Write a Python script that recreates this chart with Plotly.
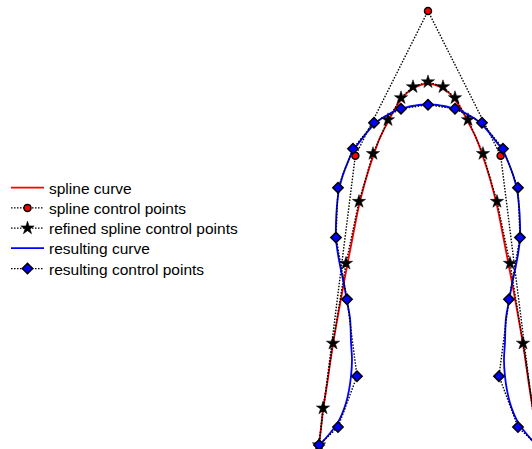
import plotly.graph_objects as go

# spline control points
ctrl_x = [0, 1, 3, 5, 6]
ctrl_y = [0, 2, 3, 2, 0]

# spline curve
curve_x = [0, 0.055, 0.11, 0.22, 0.358, 0.523, 0.688, 0.936, 1.101, 1.294, 1.486, 1.679,
           1.899, 2.092, 2.257, 2.45, 2.615, 2.808, 3.0,
           3.192, 3.385, 3.55, 3.743, 3.908, 4.101, 4.321, 4.514, 4.706, 4.899, 5.064,
           5.312, 5.477, 5.642, 5.78, 5.89, 5.945, 6]
curve_y = [0, 0.117, 0.241, 0.414, 0.655, 0.897, 1.124, 1.448, 1.655, 1.841, 1.993, 2.124,
           2.234, 2.324, 2.386, 2.441, 2.469, 2.49, 2.497,
           2.49, 2.469, 2.441, 2.386, 2.324, 2.234, 2.124, 1.993, 1.841, 1.655, 1.448,
           1.124, 0.897, 0.655, 0.414, 0.241, 0.117, 0]

# refined spline control points
ref_x = [0, 0.11, 0.385, 0.743, 1.101, 1.486, 1.899, 2.257, 2.587, 3.0,
         3.413, 3.743, 4.101, 4.514, 4.899, 5.257, 5.615, 5.89, 6]
ref_y = [0, 0.255, 0.703, 1.255, 1.683, 2.014, 2.248, 2.4, 2.476, 2.51,
         2.476, 2.4, 2.248, 2.014, 1.683, 1.255, 0.703, 0.255, 0]

# resulting curve
res_curve_x = [0, 0.165, 0.33, 0.495, 0.633, 0.743, 0.826, 0.881, 0.908, 0.881, 0.854, 0.771,
               0.688, 0.606, 0.523, 0.468, 0.468, 0.495, 0.551, 0.661, 0.798, 0.936, 1.101,
               1.294, 1.514, 1.707, 1.899, 2.092, 2.257, 2.45, 2.615, 2.808, 3.0,
               3.192, 3.385, 3.55, 3.743, 3.908, 4.101, 4.293, 4.486, 4.706, 4.899, 5.064,
               5.202, 5.339, 5.449, 5.505, 5.532, 5.532, 5.477, 5.394, 5.312, 5.229, 5.146,
               5.119, 5.092, 5.119, 5.174, 5.257, 5.367, 5.505, 5.67, 5.835, 6]
res_curve_y = [0, 0.041, 0.09, 0.145, 0.214, 0.29, 0.379, 0.476, 0.586, 0.71, 0.876, 0.993,
               1.11, 1.207, 1.317, 1.428, 1.538, 1.655, 1.766, 1.869, 1.959, 2.034, 2.09,
               2.152, 2.214, 2.255, 2.283, 2.31, 2.324, 2.338, 2.345, 2.352, 2.352,
               2.352, 2.345, 2.338, 2.324, 2.31, 2.283, 2.255, 2.214, 2.152, 2.09, 2.034,
               1.959, 1.869, 1.766, 1.655, 1.538, 1.428, 1.317, 1.207, 1.11, 0.993, 0.876,
               0.71, 0.586, 0.476, 0.379, 0.29, 0.214, 0.145, 0.09, 0.041, 0]

# resulting control points
resc_x = [0, 0.523, 1.046, 0.771, 0.468, 0.523, 0.936, 1.514, 2.257, 3.0,
          3.743, 4.486, 5.064, 5.477, 5.532, 5.229, 4.954, 5.477, 6]
resc_y = [0, 0.124, 0.476, 1.007, 1.434, 1.779, 2.048, 2.228, 2.324, 2.352,
          2.324, 2.228, 2.048, 1.779, 1.434, 1.007, 0.476, 0.124, 0]

labels = ["spline curve", "spline control points", "refined spline control points",
          "resulting curve", "resulting control points"]

W, H = 532, 449
dot = "1.5px,1.5px"
fig = go.Figure()
fig.add_trace(go.Scatter(x=curve_x, y=curve_y, mode="lines", name=labels[0], legend="legend",
                         line=dict(color="#ff0000", width=1.8, shape="spline"), cliponaxis=False))
fig.add_trace(go.Scatter(x=ctrl_x, y=ctrl_y, mode="lines+markers", name=labels[1], legend="legend2",
                         line=dict(color="black", width=1.4, dash=dot),
                         marker=dict(symbol="circle", size=7, color="#ff0000",
                                     line=dict(color="black", width=1.5)), cliponaxis=False))
fig.add_trace(go.Scatter(x=ref_x, y=ref_y, mode="lines+markers", name=labels[2], legend="legend3",
                         line=dict(color="black", width=1.4, dash=dot),
                         marker=dict(symbol="star", size=10, color="black",
                                     line=dict(color="black", width=0.5)), cliponaxis=False))
fig.add_trace(go.Scatter(x=res_curve_x, y=res_curve_y, mode="lines", name=labels[3], legend="legend4",
                         line=dict(color="#0000ff", width=1.8, shape="spline"), cliponaxis=False))
fig.add_trace(go.Scatter(x=resc_x, y=resc_y, mode="lines+markers", name=labels[4], legend="legend5",
                         line=dict(color="black", width=1.4, dash=dot),
                         marker=dict(symbol="diamond", size=8, color="#0000ff",
                                     line=dict(color="black", width=1.5)), cliponaxis=False))

row_centers = [188, 208.3, 228.5, 248.6, 269]
legend_x = 6 / W


def leg(yc):
    return dict(x=legend_x, xanchor="left", y=1 - yc / H, yanchor="middle",
                bgcolor="rgba(0,0,0,0)", borderwidth=0, itemwidth=33,
                font=dict(size=15.5, family="Liberation Sans, Arial, sans-serif", color="black"))


ysc = (445 - 11) / 3.0
ymin = -4 / ysc
xsc = 36.33
xmin = -19 / xsc

fig.update_layout(
    width=W, height=H,
    margin=dict(l=0, r=0, t=0, b=0),
    paper_bgcolor="white", plot_bgcolor="white",
    font=dict(family="Liberation Sans, Arial, sans-serif", size=15.5, color="black"),
    xaxis=dict(domain=[300 / W, 1], range=[xmin, xmin + 232 / xsc], visible=False),
    yaxis=dict(domain=[0, 1], range=[ymin, ymin + H / ysc], visible=False),
    legend=leg(row_centers[0]),
    legend2=leg(row_centers[1]),
    legend3=leg(row_centers[2]),
    legend4=leg(row_centers[3]),
    legend5=leg(row_centers[4]),
    showlegend=True,
)
fig.write_html("out.html", config={"displayModeBar": False},
               post_script="document.body.style.margin='0px';")
